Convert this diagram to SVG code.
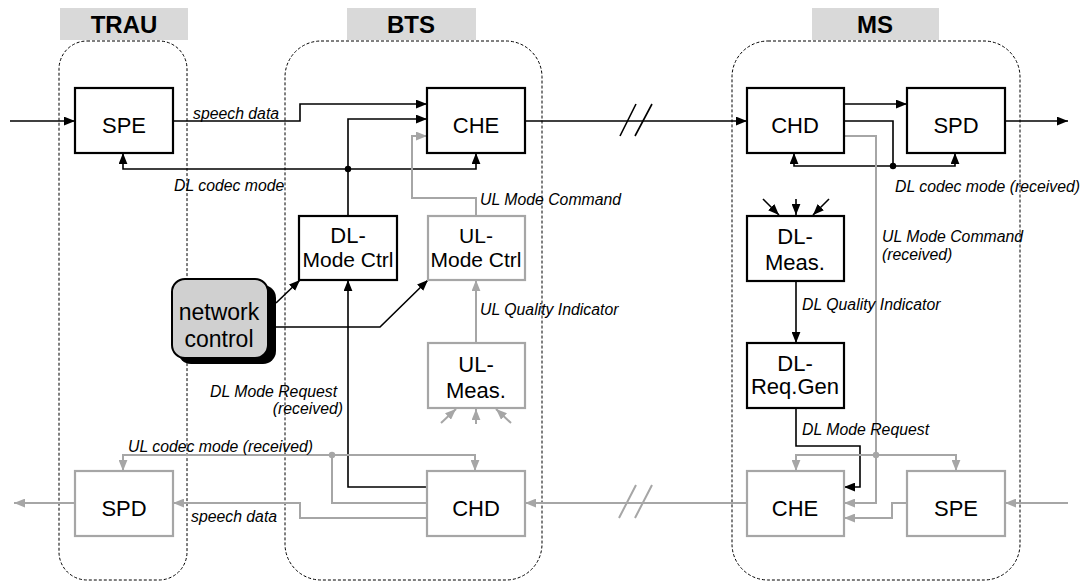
<svg xmlns="http://www.w3.org/2000/svg" width="1086" height="583" viewBox="0 0 1086 583">
<style>
text{font-family:"Liberation Sans",Arial,sans-serif;fill:#000}
.hd{font-size:24px;font-weight:bold;text-anchor:middle}
.bx{font-size:22px;text-anchor:middle}
.lb{font-size:15.8px;font-style:italic}
.cont{fill:none;stroke:#000;stroke-width:1;stroke-dasharray:3 2}
.hbox{fill:#d9d9d9}
.kb{fill:#fff;stroke:#000;stroke-width:2.2}
.gb{fill:#fff;stroke:#a6a6a6;stroke-width:2.2}
.k{fill:none;stroke:#000;stroke-width:1.6}
.g{fill:none;stroke:#a6a6a6;stroke-width:2}
.ka{marker-end:url(#ab)}
.ga{marker-end:url(#ag)}
</style>
<defs>
<marker id="ab" viewBox="0 0 10 8" refX="10" refY="4" markerWidth="11" markerHeight="9" markerUnits="userSpaceOnUse" orient="auto"><path d="M0,0L10,4L0,8z" fill="#000"/></marker>
<marker id="ag" viewBox="0 0 10 8" refX="10" refY="4" markerWidth="11" markerHeight="9" markerUnits="userSpaceOnUse" orient="auto"><path d="M0,0L10,4L0,8z" fill="#a6a6a6"/></marker>
</defs>
<rect width="1086" height="583" fill="#fff"/>

<g id="trau">
<rect class="hbox" x="60" y="8" width="128" height="32"/>
<text class="hd" x="124" y="33">TRAU</text>
<rect class="cont" x="59" y="41" width="128" height="539" rx="28"/>
</g>
<g id="bts">
<rect class="hbox" x="347" y="8" width="129" height="32"/>
<text class="hd" x="411" y="33">BTS</text>
<rect class="cont" x="285" y="41" width="257" height="539" rx="36"/>
</g>
<g id="ms">
<rect class="hbox" x="812" y="8" width="127" height="32"/>
<text class="hd" x="875" y="33">MS</text>
<rect class="cont" x="732" y="41" width="288" height="539" rx="36"/>
</g>

<g id="connectors">
<path class="k ka" d="M10,121H75"/>
<path class="k ka" d="M173,121H300V104H427"/>
<path class="k ka" d="M348,216V119H427"/>
<path class="k ka" d="M348,169H123V153"/>
<path class="k ka" d="M348,169H476V153"/>
<circle cx="348" cy="169" r="3.2" fill="#000"/>
<path class="k ka" d="M427,487H348V280"/>
<path class="k ka" d="M276,303L300,280"/>
<path class="k ka" d="M276,327H380L428,280"/>
<path class="k ka" d="M525,121H747"/>
<path class="k" d="M620,136L636,104M635,136L652,104" stroke-width="2"/>
<path class="k ka" d="M844,104H907"/>
<path class="k" d="M844,121H893V166"/>
<path class="k ka" d="M893,166H794V153"/>
<path class="k ka" d="M893,166H955V153"/>
<circle cx="893" cy="166" r="3.2" fill="#000"/>
<path class="k ka" d="M1005,121H1068"/>
<path class="k ka" d="M763,199L779,215"/>
<path class="k ka" d="M796,199V215"/>
<path class="k ka" d="M829,199L813,215"/>
<path class="k ka" d="M796,281V343"/>
<path class="k ka" d="M796,408V446H860V487H844"/>

<path class="g ga" d="M476,216V198H412V136H427"/>
<path class="g ga" d="M476,343V280"/>
<path class="g ga" d="M441,423L456,409"/>
<path class="g ga" d="M476,424V409"/>
<path class="g ga" d="M511,423L496,409"/>
<path class="g" d="M427,503H332V455"/>
<path class="g ga" d="M332,455H123V471"/>
<path class="g ga" d="M332,455H475V471"/>
<circle cx="332" cy="455" r="3.2" fill="#a6a6a6"/>
<path class="g ga" d="M427,518H300V503H173"/>
<path class="g ga" d="M75,503H14"/>
<path class="g ga" d="M747,503H525"/>
<path class="g" d="M619,518L636,485M635,518L652,485"/>
<path class="g ga" d="M844,136H876V503H844"/>
<path class="g ga" d="M876,455H796V471"/>
<path class="g ga" d="M876,455H956V471"/>
<circle cx="876" cy="455" r="3.2" fill="#a6a6a6"/>
<path class="g ga" d="M907,503H892V518H844"/>
<path class="g ga" d="M1068,503H1005"/>

<text class="lb" x="193" y="119">speech data</text>
<text class="lb" x="174" y="191">DL codec mode</text>
<text class="lb" x="480" y="205">UL Mode Command</text>
<text class="lb" x="480" y="315">UL Quality Indicator</text>
<text class="lb" x="210" y="397">DL Mode Request</text>
<text class="lb" x="343" y="414" text-anchor="end">(received)</text>
<text class="lb" x="128" y="452">UL codec mode (received)</text>
<text class="lb" x="191" y="522">speech data</text>
<text class="lb" x="895" y="192">DL codec mode (received)</text>
<text class="lb" x="882" y="242">UL Mode Command</text>
<text class="lb" x="882" y="260">(received)</text>
<text class="lb" x="802" y="310">DL Quality Indicator</text>
<text class="lb" x="802" y="435">DL Mode Request</text>
</g>

<g id="trau-spe"><rect class="kb" x="75" y="88" width="98" height="65"/><text class="bx" x="124" y="133">SPE</text></g>
<g id="trau-spd"><rect class="gb" x="75" y="471" width="98" height="65"/><text class="bx" x="124" y="516">SPD</text></g>
<g id="bts-che"><rect class="kb" x="427" y="88" width="98" height="65"/><text class="bx" x="476" y="133">CHE</text></g>
<g id="bts-chd"><rect class="gb" x="427" y="471" width="98" height="65"/><text class="bx" x="476" y="516">CHD</text></g>
<g id="dl-mode-ctrl"><rect class="kb" x="299" y="216" width="98" height="64"/><text class="bx" x="348" y="243" font-size="21">DL-</text><text class="bx" x="348" y="267" style="font-size:21px">Mode Ctrl</text></g>
<g id="ul-mode-ctrl"><rect class="gb" x="428" y="216" width="97" height="64"/><text class="bx" x="476" y="243" style="font-size:21px">UL-</text><text class="bx" x="476" y="267" style="font-size:21px">Mode Ctrl</text></g>
<g id="ul-meas"><rect class="gb" x="428" y="343" width="97" height="65"/><text class="bx" x="476" y="372">UL-</text><text class="bx" x="476" y="398">Meas.</text></g>
<g id="network-control">
<rect x="178" y="285" width="98" height="79" rx="13" fill="#000"/>
<rect x="172" y="279" width="96" height="79" rx="13" fill="#d0d0d0" stroke="#000" stroke-width="2"/>
<text class="bx" x="219" y="320" style="font-size:23px">network</text>
<text class="bx" x="219" y="347" style="font-size:23px">control</text>
</g>
<g id="ms-chd"><rect class="kb" x="747" y="88" width="97" height="65"/><text class="bx" x="795" y="133">CHD</text></g>
<g id="ms-spd"><rect class="kb" x="907" y="88" width="98" height="65"/><text class="bx" x="956" y="133">SPD</text></g>
<g id="dl-meas"><rect class="kb" x="747" y="216" width="97" height="65"/><text class="bx" x="795" y="244">DL-</text><text class="bx" x="795" y="270">Meas.</text></g>
<g id="dl-req-gen"><rect class="kb" x="747" y="343" width="97" height="65"/><text class="bx" x="795" y="371">DL-</text><text class="bx" x="795" y="394">Req.Gen</text></g>
<g id="ms-che"><rect class="gb" x="747" y="471" width="97" height="65"/><text class="bx" x="795" y="516">CHE</text></g>
<g id="ms-spe"><rect class="gb" x="907" y="471" width="98" height="65"/><text class="bx" x="956" y="516">SPE</text></g>
</svg>
